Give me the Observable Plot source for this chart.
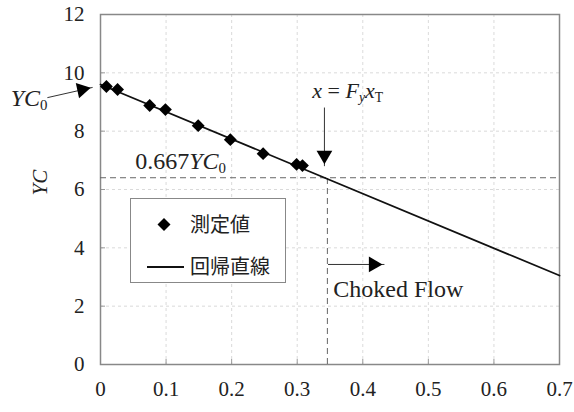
<!DOCTYPE html>
<html>
<head>
<meta charset="utf-8">
<script src="https://cdn.jsdelivr.net/npm/d3@7"></script>
<script src="https://cdn.jsdelivr.net/npm/@observablehq/plot@0.6"></script>
<style>
  body { margin: 0; background: white; }
  #wrap { position: relative; width: 574px; height: 412px; }
  #legend { position: absolute; left: 130px; top: 198px; width: 156px; height: 85px;
    border: 1px solid #888; background: white; box-sizing: border-box;
    font-family: 'Noto Sans CJK JP', sans-serif; font-size: 20px; color: #222; }
  #legend .item { position: absolute; left: 0; width: 155px; height: 30px; }
  #legend svg { position: absolute; left: 0; top: 0; }
  #legend span { position: absolute; left: 59px; top: 1px; line-height: 24px; }
</style>
</head>
<body>
<div id="wrap"></div>
<script>
// Measured points (測定値)
const measuredX = [0.009, 0.026, 0.075, 0.099, 0.149, 0.198, 0.248, 0.299, 0.308];
const measuredY = [9.53, 9.43, 8.88, 8.74, 8.19, 7.71, 7.23, 6.86, 6.82];
// Regression line (回帰直線)
const regX = [0, 0.7];
const regY = [9.6, 3.05];
// Reference values
const yc0 = 9.6;
const ratio = 0.667;
const xChoke = 0.346;
// Ticks
const xTicks = [0, 0.1, 0.2, 0.3, 0.4, 0.5, 0.6, 0.7];
const xTickLabels = ["0", "0.1", "0.2", "0.3", "0.4", "0.5", "0.6", "0.7"];
const yTicks = [0, 2, 4, 6, 8, 10, 12];
const yTickLabels = ["0", "2", "4", "6", "8", "10", "12"];
// Annotations (data coordinates)
const annoText = ["YC0", "x = Fy xT", "0.667YC0", "Choked Flow"];
const annoX = [-0.137, 0.323, 0.053, 0.355];
const annoY = [8.88, 9.15, 6.72, 2.30];
const annoSize = [24, 22, 24, 24];
// Arrows: shaft start, tip
const arrowX1 = [-0.081, 0.3415, 0.347];
const arrowY1 = [9.15, 8.81, 3.43];
const arrowX2 = [-0.012, 0.3415, 0.433];
const arrowY2 = [9.50, 6.80, 3.43];
const arrowAngle = [78, 180, 90];

const points = measuredX.map((x, i) => ({x, y: measuredY[i]}));
const reg = regX.map((x, i) => ({x, y: regY[i]}));
const annos = annoText.map((t, i) => ({t, x: annoX[i], y: annoY[i], s: annoSize[i]}));
const arrows = arrowX1.map((x1, i) => {
  const a = arrowAngle[i] * Math.PI / 180;
  // triangle centroid placed behind the tip, along the direction
  return {x1, y1: arrowY1[i], x2: arrowX2[i], y2: arrowY2[i], a: arrowAngle[i],
          dx: -11 * Math.sin(a), dy: 11 * Math.cos(a)};
});

const plot = Plot.plot({
  width: 574,
  height: 412,
  marginLeft: 100,
  marginRight: 15,
  marginTop: 14,
  marginBottom: 48,
  style: {fontFamily: "'Liberation Serif', 'Times New Roman', serif", fontSize: "21px", background: "white", color: "#222", overflow: "visible"},
  x: {domain: [0, 0.7]},
  y: {domain: [0, 12]},
  marks: [
    Plot.gridX(xTicks, {stroke: "#bbb", strokeOpacity: 0.55, strokeDasharray: "3,3"}),
    Plot.gridY(yTicks, {stroke: "#bbb", strokeOpacity: 0.55, strokeDasharray: "3,3"}),
    Plot.axisX(xTicks, {tickSize: 5, dy: -5, tickFormat: () => "", stroke: "#999"}),
    Plot.axisY(yTicks, {tickSize: 5, dx: 5, tickFormat: () => "", stroke: "#999"}),
    Plot.axisX(xTicks, {tickSize: 0, tickPadding: 17, tickFormat: (d, i) => xTickLabels[i], fontSize: 21, label: null}),
    Plot.axisY(yTicks, {tickSize: 0, tickPadding: 16, tickFormat: (d, i) => yTickLabels[i], fontSize: 21, label: null}),
    Plot.frame({stroke: "#888", strokeWidth: 1.5}),
    // reference dashed lines
    Plot.ruleY([ratio * yc0], {x1: 0, x2: 0.7, stroke: "#666", strokeDasharray: "6,4", strokeWidth: 1}),
    Plot.ruleX([xChoke], {y1: 0, y2: ratio * yc0, stroke: "#666", strokeDasharray: "6,4", strokeWidth: 1}),
    // regression line
    Plot.line(reg, {x: "x", y: "y", stroke: "#111", strokeWidth: 1.8}),
    // measured points
    Plot.dot(points, {x: "x", y: "y", symbol: "diamond2", r: 5.8, fill: "#000", stroke: "none"}),
    // arrows
    Plot.link(arrows, {x1: "x1", y1: "y1", x2: "x2", y2: "y2", stroke: "#333", strokeWidth: 1}),
    ...arrows.map(a => Plot.dot([a], {x: "x2", y: "y2", symbol: "triangle2", r: 7.5, fill: "#000", stroke: "none", rotate: a.a, dx: a.dx, dy: a.dy})),
    // annotations
    ...annos.map(a => Plot.text([a], {x: "x", y: "y", text: "t", textAnchor: "start", lineAnchor: "bottom", fontSize: a.s, fill: "#222"})),
    // y axis label
    Plot.text(["YC"], {frameAnchor: "left", dx: -60, dy: 6, text: d => d, rotate: -90, fontStyle: "italic", fontSize: 21, fill: "#222"})
  ]
});

// rich text for annotations (italic variables and subscripts)
const richParts = {
  "YC0": [{t: "YC", i: true}, {t: "0", sub: true}],
  "x = Fy xT": [{t: "x", i: true}, {t: " = "}, {t: "F", i: true}, {t: "y", i: true, sub: true}, {t: "x", i: true}, {t: "T", sub: true}],
  "0.667YC0": [{t: "0.667"}, {t: "YC", i: true}, {t: "0", sub: true}]
};
plot.querySelectorAll("text").forEach(el => {
  const parts = richParts[el.textContent];
  if (!parts) return;
  el.textContent = "";
  let shifted = false;
  parts.forEach(p => {
    const ts = document.createElementNS("http://www.w3.org/2000/svg", "tspan");
    ts.textContent = p.t;
    if (p.i) ts.setAttribute("font-style", "italic");
    if (p.sub && !shifted) { ts.setAttribute("dy", "0.3em"); ts.setAttribute("font-size", "0.62em"); shifted = true; }
    else if (p.sub) { ts.setAttribute("font-size", "0.62em"); }
    else if (shifted) { ts.setAttribute("dy", "-0.186em"); shifted = false; }
    el.appendChild(ts);
  });
});

const wrap = document.getElementById("wrap");
wrap.appendChild(plot);

// legend
const legend = document.createElement("div");
legend.id = "legend";
legend.innerHTML = `
  <div class="item" style="top:12px">
    <svg width="60" height="30"><path d="M33,7 L39.5,13.5 L33,20 L26.5,13.5 Z" fill="#000"/></svg>
    <span>測定値</span>
  </div>
  <div class="item" style="top:54px">
    <svg width="60" height="30"><line x1="16" x2="53" y1="14" y2="14" stroke="#111" stroke-width="1.8"/></svg>
    <span>回帰直線</span>
  </div>`;
wrap.appendChild(legend);
</script>
</body>
</html>
